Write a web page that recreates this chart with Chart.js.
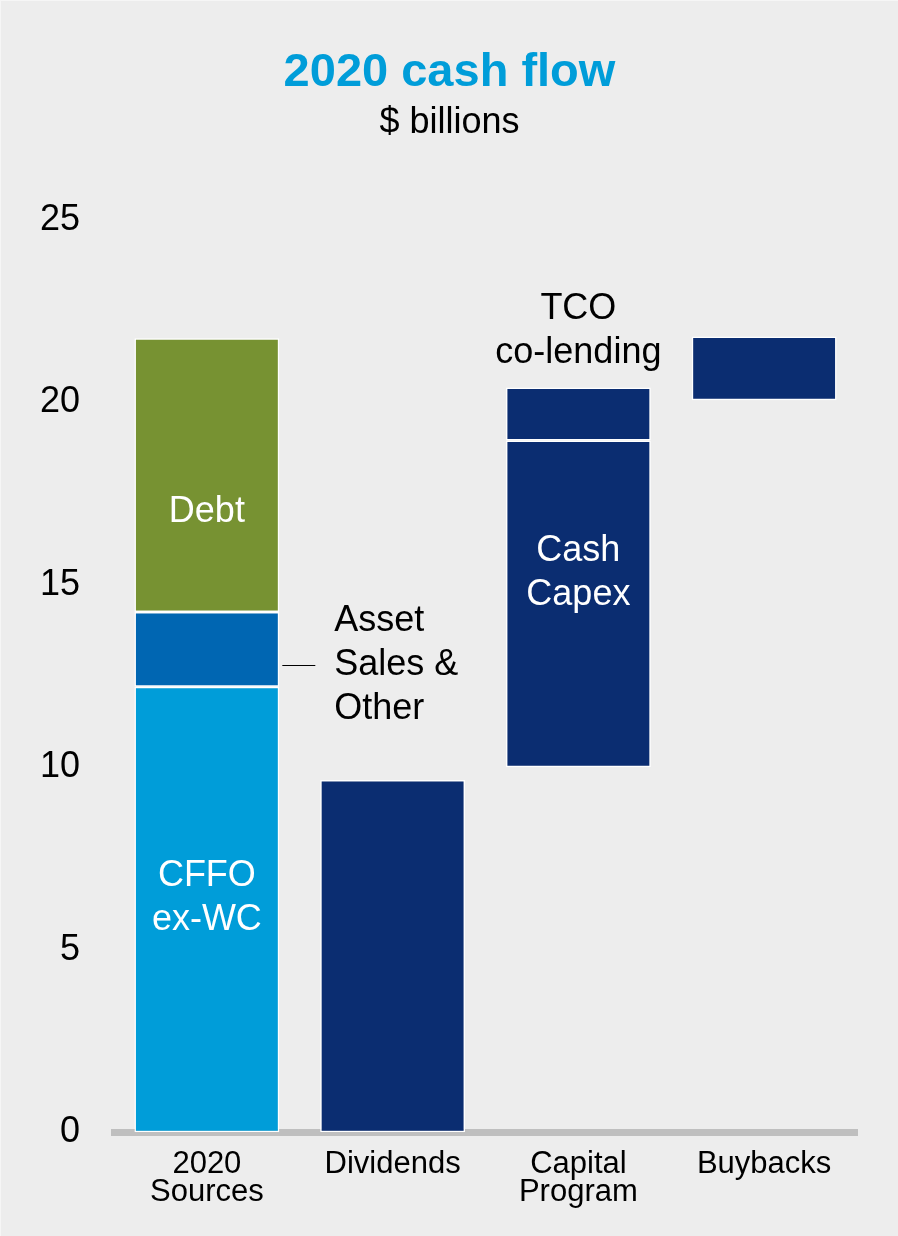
<!DOCTYPE html>
<html>
<head>
<meta charset="utf-8">
<script src="https://cdn.jsdelivr.net/npm/chart.js@4.4.1/dist/chart.umd.min.js"></script>
<style>
  html, body { margin: 0; padding: 0; background: #ededed; }
  #wrap { position: relative; width: 898px; height: 1236px; box-sizing: border-box; border-left: 1px solid #f6f6f6; border-top: 1px solid #f6f6f6; }
</style>
</head>
<body>
<div id="wrap"><canvas id="cashChart"></canvas></div>
<script>
const categories = [['2020', 'Sources'], 'Dividends', ['Capital', 'Program'], 'Buybacks'];
const yTicks = [0, 5, 10, 15, 20, 25];

// floating bars: [start, end] in $ billions
const cffoExWc = [[0, 12.2], null, null, null];
const assetSales = [[12.2, 14.25], null, null, null];
const debt = [[14.25, 21.75], null, null, null];
const uses = [null, [0, 9.65], [10.0, 18.95], [20.05, 21.8]];
const tcoCoLending = [null, null, [18.95, 20.4], null];

const FONT = '"Liberation Sans", Arial, sans-serif';
const NAVY = '#0b2d71';

// text placed on the bars, anchored to a y value
const barNotes = [
  { lines: ['Debt'], cat: 0, at: 17.0, color: '#ffffff' },
  { lines: ['CFFO', 'ex-WC'], cat: 0, at: 6.4, color: '#ffffff' },
  { lines: ['Cash', 'Capex'], cat: 2, at: 15.33, color: '#ffffff' },
  { lines: ['TCO', 'co-lending'], cat: 2, at: 21.95, color: '#000000' }
];
const sideNote = { lines: ['Asset', 'Sales &', 'Other'], cat: 0, at: 12.8 };

const notesPlugin = {
  id: 'notes',
  afterDatasetsDraw(chart) {
    const { ctx, scales: { y } } = chart;
    const bar = chart.getDatasetMeta(0).data[0];
    const lineH = 44;
    ctx.save();
    ctx.font = '36px ' + FONT;
    ctx.textBaseline = 'middle';
    ctx.textAlign = 'center';
    barNotes.forEach(note => {
      const cx = chart.scales.x.getPixelForValue(note.cat);
      const cy = y.getPixelForValue(note.at);
      const n = note.lines.length;
      ctx.fillStyle = note.color;
      note.lines.forEach((t, i) => {
        ctx.fillText(t, cx, cy + (i - (n - 1) / 2) * lineH);
      });
    });

    // Asset Sales & Other, with a leader line
    const right = bar.x + bar.width / 2;
    const ly = Math.round(y.getPixelForValue(sideNote.at)) + 0.5;
    ctx.strokeStyle = '#000000';
    ctx.lineWidth = 1;
    ctx.beginPath();
    ctx.moveTo(right + 3, ly);
    ctx.lineTo(right + 36, ly);
    ctx.stroke();
    ctx.textAlign = 'left';
    ctx.fillStyle = '#000000';
    sideNote.lines.forEach((t, i) => {
      ctx.fillText(t, right + 55, ly + (i - 1) * lineH);
    });
    ctx.restore();
  }
};

function barSet(label, data, color) {
  return {
    label,
    data,
    backgroundColor: color,
    borderColor: '#ffffff',
    borderWidth: 1.5,
    borderSkipped: false,
    grouped: false,
    barPercentage: 0.78,
    categoryPercentage: 1
  };
}

new Chart(document.getElementById('cashChart'), {
  type: 'bar',
  data: {
    labels: categories,
    datasets: [
      barSet('CFFO ex-WC', cffoExWc, '#009dd9'),
      barSet('Asset Sales & Other', assetSales, '#0066b2'),
      barSet('Debt', debt, '#779232'),
      barSet('Uses', uses, NAVY),
      barSet('TCO co-lending', tcoCoLending, NAVY)
    ]
  },
  options: {
    responsive: true,
    maintainAspectRatio: false,
    animation: false,
    layout: { padding: { left: 0, right: 0, top: 0, bottom: 12 } },
    plugins: {
      legend: { display: false },
      tooltip: { enabled: false },
      title: {
        display: true,
        text: '2020 cash flow',
        color: '#009dd9',
        font: { family: FONT, size: 47, weight: 'bold', lineHeight: 1.2 },
        padding: { top: 44, bottom: 0 }
      },
      subtitle: {
        display: true,
        text: '$ billions',
        color: '#000000',
        font: { family: FONT, size: 36, lineHeight: 1.2 },
        padding: { top: 0, bottom: 75 }
      }
    },
    scales: {
      x: {
        z: 1,
        grid: { display: false, drawTicks: false },
        border: { display: true, color: '#bfbfbf', width: 7 },
        ticks: {
          color: '#000000',
          padding: 18,
          font: { family: FONT, size: 31, lineHeight: 0.9 }
        }
      },
      y: {
        min: 0,
        max: 25,
        grid: { display: false, drawTicks: false },
        border: { display: false },
        afterBuildTicks(scale) {
          scale.ticks = yTicks.map(v => ({ value: v }));
        },
        afterFit(scale) {
          scale.width = 113;
        },
        ticks: {
          color: '#000000',
          padding: 34,
          font: { family: FONT, size: 36 }
        }
      },
      // empty right margin so the title stays centred on the page
      yRight: {
        position: 'right',
        grid: { display: false, drawTicks: false },
        border: { display: false },
        ticks: { display: false },
        afterFit(scale) {
          scale.width = 41;
        }
      }
    }
  },
  plugins: [notesPlugin]
});
</script>
</body>
</html>
